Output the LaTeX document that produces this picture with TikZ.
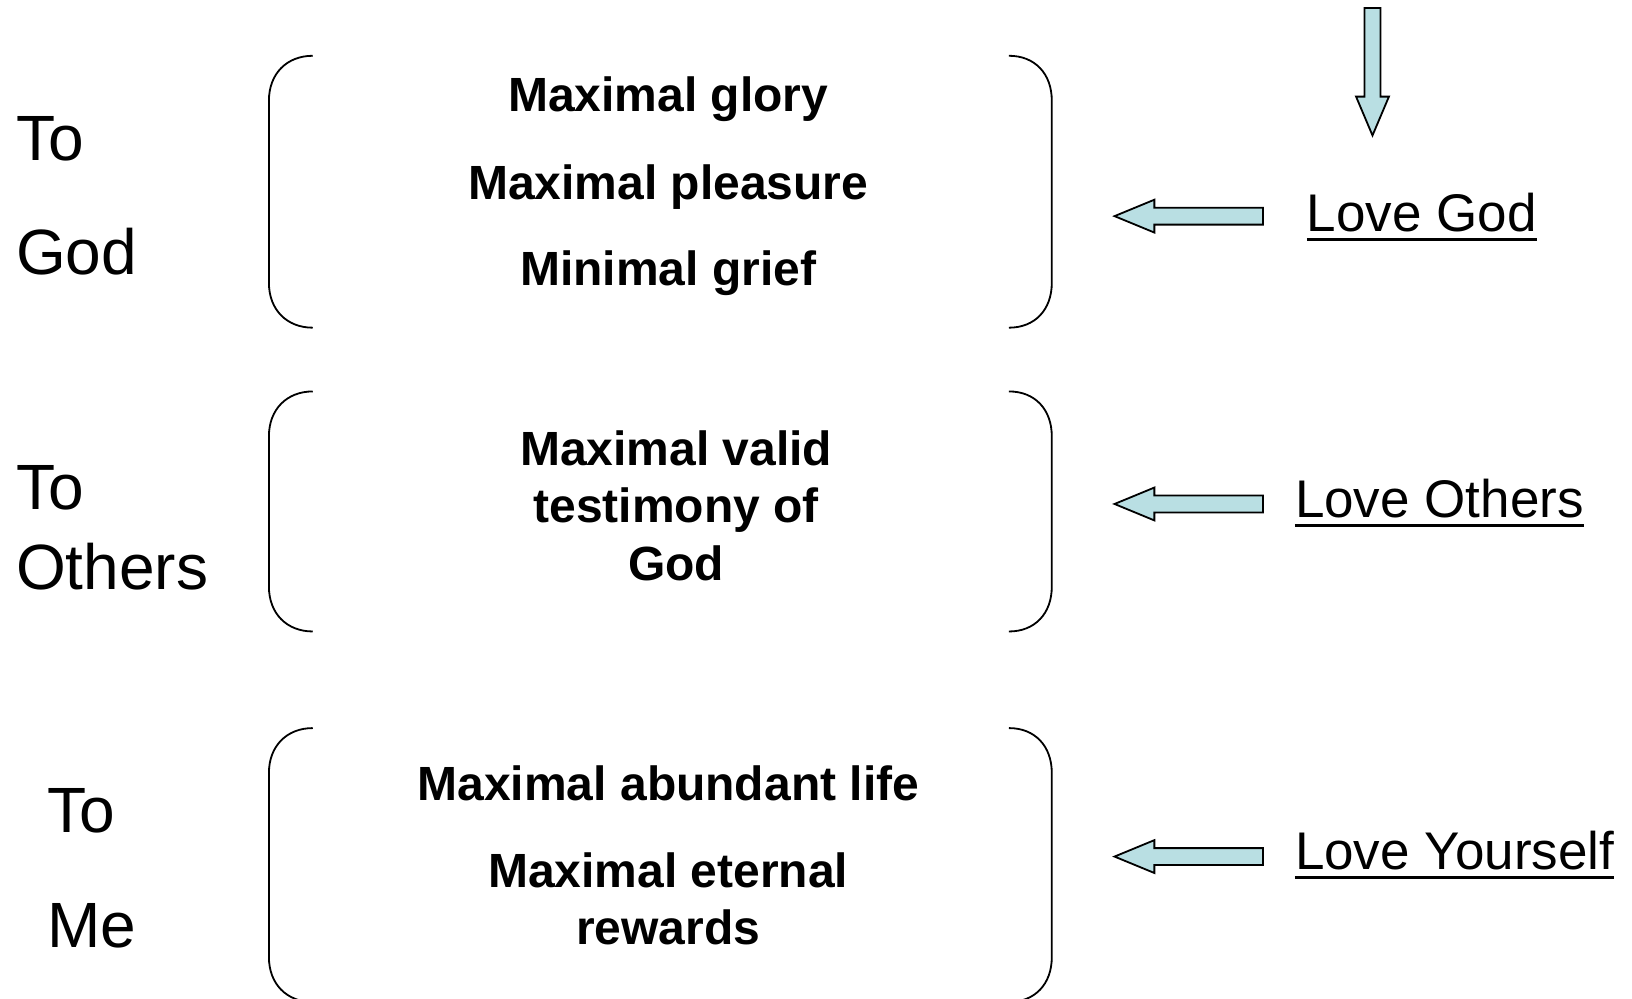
\documentclass[tikz,border=0pt]{standalone}
\usepackage{fontspec}
\setmainfont{Liberation Sans}
\definecolor{arrowfill}{RGB}{185,223,227}
\tikzset{
  side/.style={font=\fontsize{64}{70}\selectfont, anchor=base west, inner sep=0pt},
  item/.style={font=\fontsize{48}{58}\selectfont\bfseries, anchor=base, inner sep=0pt},
  love/.style={font=\fontsize{53}{60}\selectfont, anchor=base west, inner sep=0pt},
  uline/.style={line width=3pt},
  brk/.style={line width=1.8pt},
  blockarrow/.style={draw=black, line width=1.8pt, fill=arrowfill, line join=miter},
  larrow/.pic={\draw[blockarrow] (0,0) -- (40,-16.5) -- (40,-8.5) -- (149,-8.5) -- (149,8.5) -- (40,8.5) -- (40,16.5) -- cycle;}
}
\newcommand{\bracketpair}[2]{%
  \draw[brk] (314,#1) .. controls (288,#1) and (270,#1+18) .. (270,#1+45) -- (270,#2-45) .. controls (270,#2-18) and (288,#2) .. (314,#2);
  \draw[brk] (1013,#1) .. controls (1039,#1) and (1056,#1+18) .. (1056,#1+45) -- (1056,#2-45) .. controls (1056,#2-18) and (1039,#2) .. (1013,#2);
}
\begin{document}
\begin{tikzpicture}[x=1pt,y=-1pt]
\useasboundingbox (0,0) rectangle (1632,998);
\fill[white] (0,0) rectangle (1632,998);
\begin{scope}[x=0.996pt,y=-0.996pt]
% brackets
\bracketpair{56}{329}
\bracketpair{393}{634}
\bracketpair{731}{1006}
% left labels
\node[side] (to1) at (16,161) {To};
\node[side] (god) at (16,276) {God};
\node[side] (to2) at (16,512) {To};
\node[side] (others) at (16,592) {Others};
\node[side] (to3) at (47,836) {To};
\node[side] (me) at (47,951) {Me};
% centre items
\node[item] (g1) at (671,112) {Maximal glory};
\node[item] (g2) at (671,200) {Maximal pleasure};
\node[item] (g3) at (671,287) {Minimal grief};
\node[item] (o1) at (679,467) {Maximal valid};
\node[item] (o2) at (679,525) {testimony of};
\node[item] (o3) at (679,583) {God};
\node[item] (m1) at (671,804) {Maximal abundant life};
\node[item] (m2) at (671,891) {Maximal eternal};
\node[item] (m3) at (671,948) {rewards};
% right labels
\node[love] (lg) at (1312,232) {Love God};
\node[love] (lo) at (1300,520) {Love Others};
\node[love] (ly) at (1300,873) {Love Yourself};
\foreach \n in {lg,lo,ly}{
  \draw[uline] ([yshift=-8pt]\n.base west) -- ([yshift=-8pt]\n.base east);
}
% arrows
\pic at (1119,217) {larrow};
\pic at (1119,506) {larrow};
\pic at (1119,860) {larrow};
\draw[blockarrow] (1378,136) -- (1361.5,97) -- (1370,97) -- (1370,8) -- (1386,8) -- (1386,97) -- (1394.5,97) -- cycle;
\end{scope}
\end{tikzpicture}
\end{document}
